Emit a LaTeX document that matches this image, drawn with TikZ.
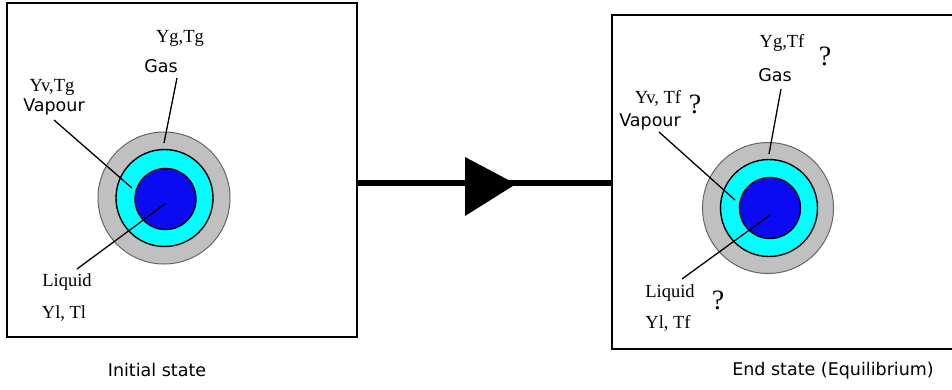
\documentclass[tikz,border=0pt]{standalone}
\usepackage{fontspec}
\setmainfont{Liberation Serif}
\newfontfamily\dejavu{DejaVu Sans}
\begin{document}
\begin{tikzpicture}[x=1pt,y=-1pt,
  frame/.style={draw=black,line width=2pt,rectangle,inner sep=0pt},
  gasring/.style={circle,draw=black!60,line width=1pt,fill=gasgray,inner sep=0pt,minimum size=#1},
  vapring/.style={circle,draw=black,line width=1.4pt,fill=vapcyan,inner sep=0pt,minimum size=#1},
  liqdrop/.style={circle,draw=black,line width=1.4pt,fill=dropblue,inner sep=0pt,minimum size=#1},
  serlab/.style={font=\fontsize{18.5}{21}\selectfont,inner sep=0pt},
  sanlab/.style={font=\dejavu\fontsize{17.5}{20}\selectfont,inner sep=0pt},
  qmark/.style={font=\fontsize{28}{30}\selectfont,inner sep=0pt},
  leader/.style={draw=black,line width=1.3pt}]
\definecolor{gasgray}{HTML}{C0C0C0}
\definecolor{vapcyan}{HTML}{00FFFF}
\definecolor{dropblue}{HTML}{0A0AF5}
\useasboundingbox (0,0) rectangle (952,389);
\fill[white] (0,0) rectangle (952,389);

% frames
\node[frame,minimum width=350pt,minimum height=334pt] (boxL) at (182,170) {};
\node[frame,minimum width=352pt,minimum height=334pt,anchor=north west] (boxR) at (611,14) {};

% left droplet
\node[gasring=132pt] (gL) at (164,198) {};
\node[vapring=97pt] (vL) at (164.5,198) {};
\node[liqdrop=61pt] (lL) at (165.5,199) {};

\node[serlab] (ygL) at (180,38) {Yg,Tg};
\node[sanlab] (gasL) at (161,66) {Gas};
\node[serlab] (yvL) at (52,87) {Yv,Tg};
\node[sanlab] (vapL) at (54,107) {Vapour};
\node[serlab] (liqL) at (67,282) {Liquid};
\node[serlab] (ylL) at (64,313) {Yl, Tl};

\coordinate (gasLa) at (177,78);  \coordinate (gasLb) at (164,143);
\coordinate (vapLa) at (54,120);  \coordinate (vapLb) at (132,188);
\coordinate (liqLa) at (77,269);  \coordinate (liqLb) at (165,204);
\draw[leader] (gasLa) -- (gasLb);
\draw[leader] (vapLa) -- (vapLb);
\draw[leader] (liqLa) -- (liqLb);

% right droplet
\node[gasring=131pt] (gR) at (768,208) {};
\node[vapring=97pt] (vR) at (769,208) {};
\node[liqdrop=61pt] (lR) at (770,208) {};

\node[serlab] (ygR) at (782,43) {Yg,Tf};
\node[qmark] (q1) at (825,56) {?};
\node[sanlab] (gasR) at (775,75) {Gas};
\node[serlab] (yvR) at (658,98) {Yv, Tf};
\node[qmark] (q2) at (695,104) {?};
\node[sanlab] (vapR) at (650,122) {Vapour};
\node[serlab] (liqR) at (670,293) {Liquid};
\node[qmark] (q3) at (718,300) {?};
\node[serlab] (ylR) at (668,323) {Yl, Tf};

\coordinate (gasRa) at (781,89);  \coordinate (gasRb) at (769,154);
\coordinate (vapRa) at (659,132); \coordinate (vapRb) at (735,200);
\coordinate (liqRa) at (682,279); \coordinate (liqRb) at (770,215);
\draw[leader] (gasRa) -- (gasRb);
\draw[leader] (vapRa) -- (vapRb);
\draw[leader] (liqRa) -- (liqRb);

% transition arrow
\coordinate (midA) at (485,183);
\draw[line width=6.5pt] (boxL.east |- midA) -- (boxR.west |- midA);
\coordinate (triA) at (465,157);
\coordinate (triB) at (516,184);
\coordinate (triC) at (465,216);
\fill[black] (triA) -- (triB) -- (triC) -- cycle;

% captions
\node[sanlab] (capL) at (157,370) {Initial state};
\node[sanlab] (capR) at (833,371) {End state (Equilibrium)};
\end{tikzpicture}
\end{document}
